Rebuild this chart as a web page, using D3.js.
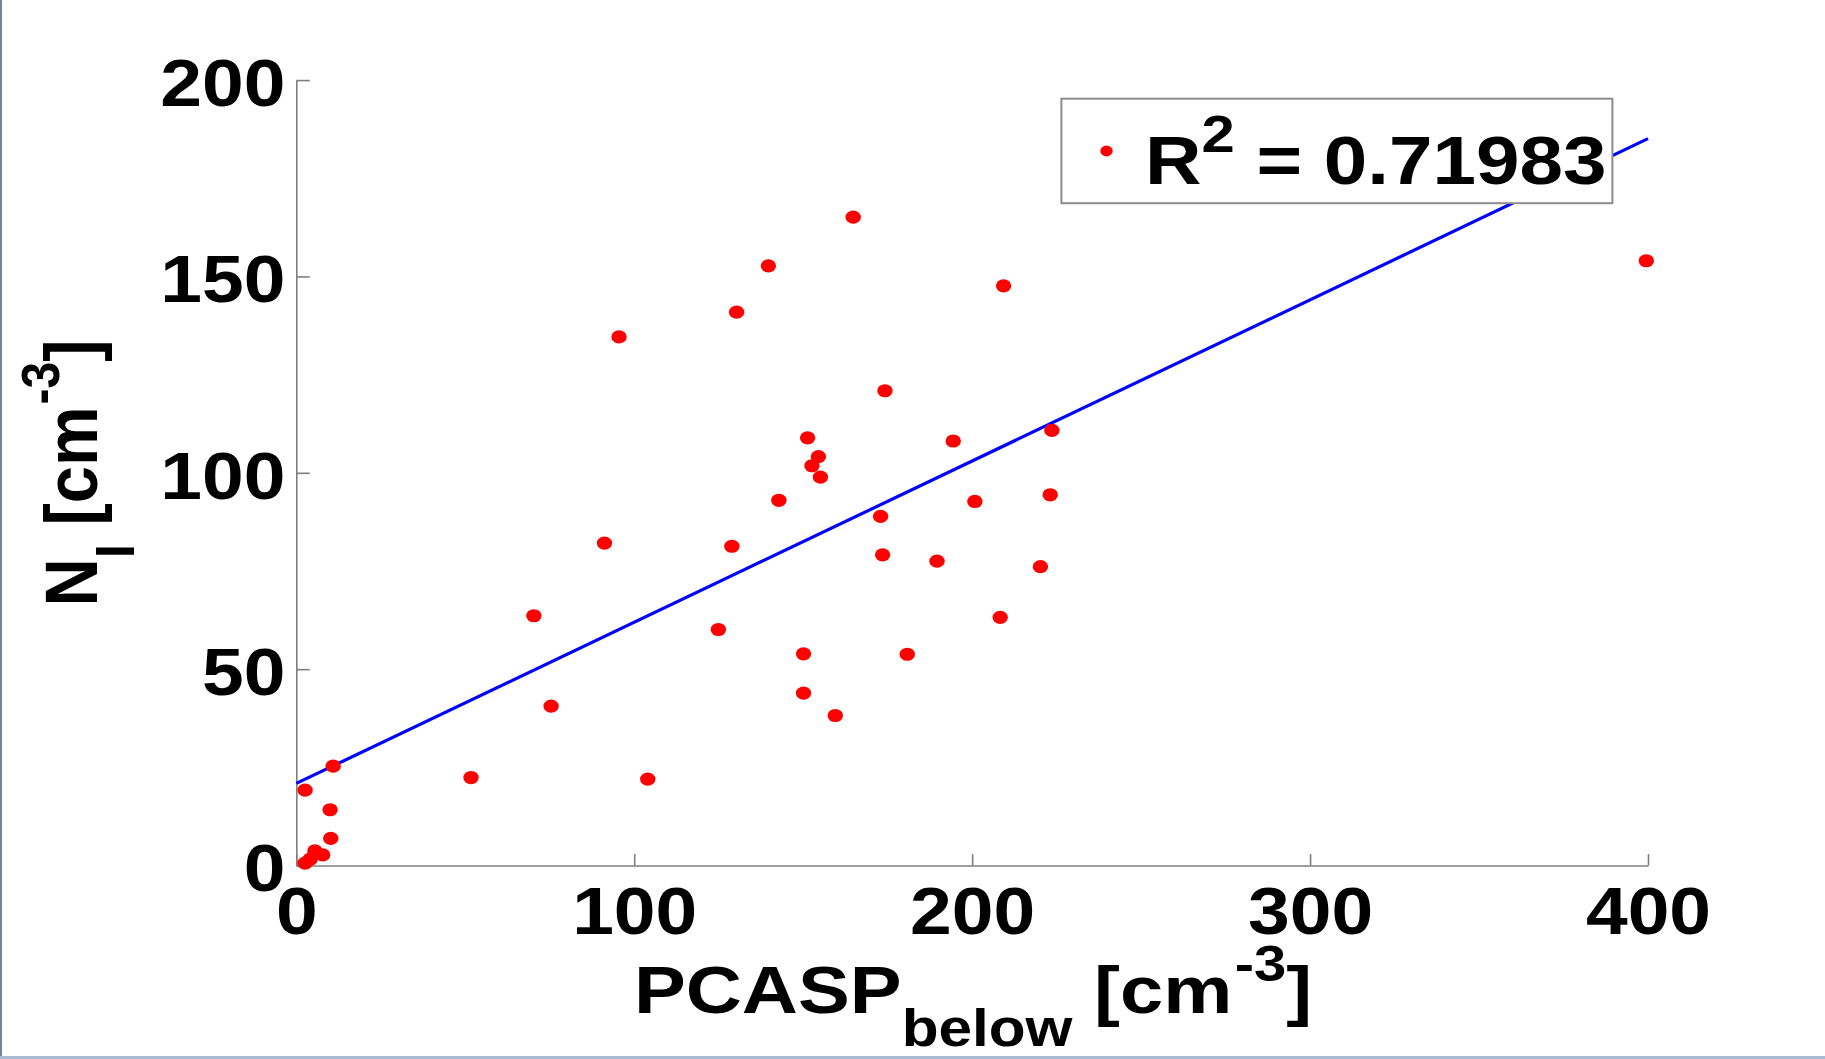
<!DOCTYPE html>
<html>
<head>
<meta charset="utf-8">
<script src="https://cdn.jsdelivr.net/npm/d3@7"></script>
<style>
    body { margin: 0; background: #fff; }
    text { font-family: 'Liberation Sans', Arial, sans-serif; font-weight: bold; white-space: pre; }
</style>
</head>
<body>
<div class="canvas"></div>
<script>
// PCASP (below cloud) vs N_I
const pcasp = [164.8, 139.7, 130.3, 95.5, 209.3, 399.5, 174.2, 151.3, 154.5, 152.6,
               155.1, 194.4, 223.6, 142.8, 223.1, 200.8, 172.9, 91.2, 128.9, 173.5,
               189.6, 220.2, 70.3, 208.3, 124.9, 150.1, 180.8, 150.1, 75.4, 159.5,
               51.7, 104.0, 10.9, 2.6, 10.0, 10.2, 5.5, 7.8, 4.1, 2.6];
const nI    = [165.1, 152.7, 140.9, 134.6, 147.6, 154.0, 120.9, 108.9, 104.1, 101.8,
               98.9, 108.1, 110.8, 93.0, 94.4, 92.7, 88.9, 82.1, 81.3, 79.1,
               77.5, 76.1, 63.6, 63.2, 60.1, 53.9, 53.8, 43.9, 40.6, 38.2,
               22.4, 22.0, 25.3, 19.2, 14.2, 6.9, 3.7, 2.7, 1.6, 0.6];

// linear fit end points
const fitX = [0, 400];
const fitY = [20.9, 185.1];

const xTicks = [0, 100, 200, 300, 400];
const yTicks = [0, 50, 100, 150, 200];
const r2Value = '0.71983';

const width = 1825, height = 1059;
const stretch = 1.12;   // original figure is a bit wider than tall

const svg = d3.select('.canvas')
    .append('svg')
        .attr('width', width)
        .attr('height', height);

svg.append('rect').attr('width', width).attr('height', height).attr('fill', '#fff');

// thin window edges seen in the screenshot
svg.append('rect').attr('x', 0).attr('y', 0).attr('width', 2).attr('height', height).attr('fill', '#6f86a0');
svg.append('rect').attr('x', 0).attr('y', height - 3).attr('width', width).attr('height', 3).attr('fill', '#a7bad0');

const margin = {top: 80.1, left: 296.3};
const graphWidth = 1648 - margin.left;
const graphHeight = 865.5 - margin.top;

const graph = svg.append('g')
    .attr('transform', `translate(${margin.left},${margin.top})`);

const x = d3.scaleLinear().domain([0, 400]).range([0, graphWidth]);
const y = d3.scaleLinear().domain([0, 200]).range([graphHeight, 0]);

const axisColor = '#7f7f7f';

const styleAxis = (g) => {
    g.select('.domain').attr('stroke', axisColor).attr('stroke-width', 1.6);
    g.selectAll('.tick line').attr('stroke', axisColor).attr('stroke-width', 1.6);
    g.selectAll('.tick text')
        .attr('fill', '#000')
        .attr('font-size', 67)
        .attr('font-family', "'Liberation Sans', Arial, sans-serif")
        .attr('font-weight', 'bold')
        .attr('transform', `scale(${stretch},1)`);
};

const xAxis = d3.axisBottom(x)
    .tickValues(xTicks)
    .tickFormat(d3.format('d'))
    .tickSizeInner(-11.5)
    .tickSizeOuter(0)
    .tickPadding(21);

const yAxis = d3.axisLeft(y)
    .tickValues(yTicks)
    .tickFormat(d3.format('d'))
    .tickSizeInner(-13.5)
    .tickSizeOuter(0)
    .tickPadding(9.6);

graph.append('g')
    .attr('transform', `translate(0,${graphHeight})`)
    .call(xAxis)
    .call(styleAxis);

graph.append('g')
    .call(yAxis)
    .call(styleAxis)
    .selectAll('.tick text').attr('dy', '0.38em');

// regression line
const fit = fitX.map((d, i) => [d, fitY[i]]);
graph.append('path')
    .datum(fit)
    .attr('fill', 'none')
    .attr('stroke', '#0000ff')
    .attr('stroke-width', 3.2)
    .attr('d', d3.line().x(d => x(d[0])).y(d => y(d[1])));

// points
const points = pcasp.map((d, i) => ({x: d, y: nI[i]}));
graph.selectAll('ellipse.pt')
    .data(points)
    .enter()
    .append('ellipse')
        .attr('class', 'pt')
        .attr('cx', d => x(d.x))
        .attr('cy', d => y(d.y))
        .attr('rx', 7.7)
        .attr('ry', 6.6)
        .attr('fill', '#ff0000');

// legend
const legend = svg.append('g');
legend.append('rect')
    .attr('x', 1061.4).attr('y', 98.7)
    .attr('width', 551).attr('height', 104.5)
    .attr('fill', '#fff')
    .attr('stroke', '#8c8c8c')
    .attr('stroke-width', 2);
legend.append('ellipse')
    .attr('cx', 1106.5).attr('cy', 151)
    .attr('rx', 6.2).attr('ry', 5.4)
    .attr('fill', '#ff0000');
const lt = legend.append('text')
    .attr('transform', `translate(1145,184) scale(1.15,1)`)
    .attr('font-size', 68);
lt.append('tspan').text('R');
lt.append('tspan').attr('font-size', 52).attr('dy', -32).text('2');
lt.append('tspan').attr('dy', 32).text(' = ' + r2Value);

// x axis title
const xt = svg.append('text')
    .attr('transform', `translate(973,1013) scale(1.16,1)`)
    .attr('text-anchor', 'middle')
    .attr('font-size', 67);
xt.append('tspan').text('PCASP');
xt.append('tspan').attr('font-size', 52).attr('dy', 33).text('below');
xt.append('tspan').attr('dy', -33).text(' [cm');
xt.append('tspan').attr('font-size', 50).attr('dy', -32).attr('dx', 2).text('-3');
xt.append('tspan').attr('dy', 32).text(']');

// y axis title
const yt = svg.append('text')
    .attr('transform', `translate(97,473) scale(${stretch},1) rotate(-90)`)
    .attr('text-anchor', 'middle')
    .attr('font-size', 67);
yt.append('tspan').text('N');
yt.append('tspan').attr('font-size', 50).attr('dy', 33).text('I');
yt.append('tspan').attr('dy', -33).text(' [cm');
yt.append('tspan').attr('font-size', 48).attr('dy', -34).attr('dx', 2).text('-3');
yt.append('tspan').attr('dy', 34).text(']');
</script>
</body>
</html>
